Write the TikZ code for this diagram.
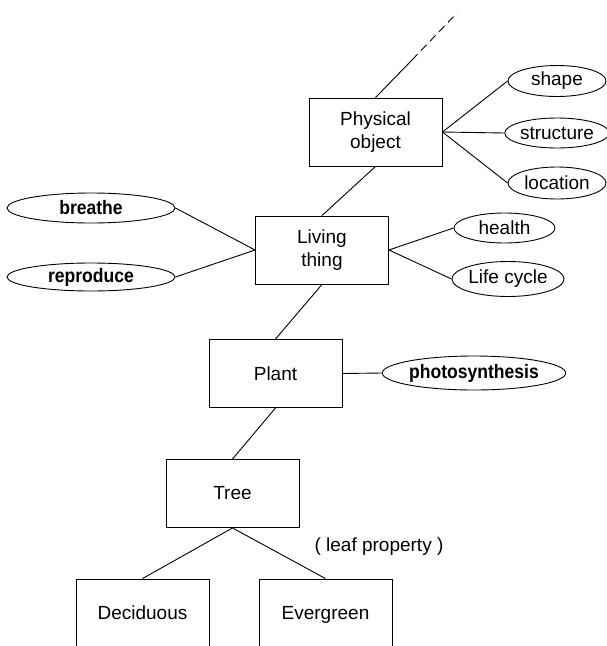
\documentclass[tikz,border=0pt]{standalone}
\usepackage{fontspec}
\setmainfont{Liberation Sans}
\usetikzlibrary{shapes.geometric}
\newcommand{\narrowbf}[1]{\scalebox{0.9}[1]{\bfseries #1}}
\begin{document}
\begin{tikzpicture}[x=1pt,y=-1pt,
  line width=0.9pt,
  box/.style={draw,rectangle,minimum width=133pt,minimum height=68pt,inner sep=0pt,align=center,font=\fontsize{19}{22.5}\selectfont},
  attr/.style={draw,ellipse,inner sep=0pt,font=\fontsize{19}{22}\selectfont},
  battr/.style={draw,ellipse,inner sep=0pt,font=\fontsize{19.5}{22}\selectfont},
  conn/.style={draw,line width=0.9pt}]
\useasboundingbox (0,0) rectangle (607,646);
\clip (0,0) rectangle (607,646);
% boxes
\node[box] (phys) at (375.5,132) {Physical\\object};
\node[box] (living) at (322,250) {Living\\thing};
\node[box] (plant) at (275.5,373.5) {Plant};
\node[box] (tree) at (232.5,493.5) {Tree};
\node[box] (decid) at (142.5,613) {Deciduous};
\node[box,text depth=0pt] (everg) at (325.5,613) {Evergreen};
% attribute ellipses
\node[attr,minimum width=98pt,minimum height=31pt] (shape) at (557,81) {shape};
\node[attr,minimum width=98pt,minimum height=30pt] (struct) at (557,133) {structure};
\node[attr,minimum width=98pt,minimum height=32pt] (loc) at (557,183) {location};
\node[attr,minimum width=101pt,minimum height=30pt] (health) at (504.5,228) {health};
\node[attr,minimum width=108pt,minimum height=35pt] (life) at (508,279) {Life cycle};
\node[battr,minimum width=168pt,minimum height=30pt] (breathe) at (91,208) {\narrowbf{breathe}};
\node[battr,minimum width=168pt,minimum height=28pt] (repro) at (91,277) {\narrowbf{reproduce}};
\node[battr,minimum width=166pt,minimum height=34pt] (photo) at (474,373) {\narrowbf{photosynthesis}};
\node[font=\fontsize{19}{22}\selectfont] (leaf) at (379,547) {( leaf property )};
% top continuation
\coordinate (topmid) at (412,60);
\coordinate (topend) at (457,13);
\draw[conn] (phys.north) -- (topmid);
\draw[conn,dash pattern=on 8pt off 5pt] (topmid) -- (topend);
% hierarchy
\draw[conn] (phys.south) -- (living.north);
\draw[conn] (living.south) -- (plant.north);
\draw[conn] (plant.south) -- (tree.north);
\draw[conn] (tree.south) -- (decid.north);
\draw[conn] (tree.south) -- (everg.north);
% attributes
\draw[conn] (phys.east) -- (shape.west);
\draw[conn] (phys.east) -- (struct.west);
\draw[conn] (phys.east) -- (loc.west);
\draw[conn] (living.east) -- (health.west);
\draw[conn] (living.east) -- (life.west);
\draw[conn] (living.west) -- (breathe.east);
\draw[conn] (living.west) -- (repro.east);
\draw[conn] (plant.east) -- (photo.west);
\end{tikzpicture}
\end{document}
